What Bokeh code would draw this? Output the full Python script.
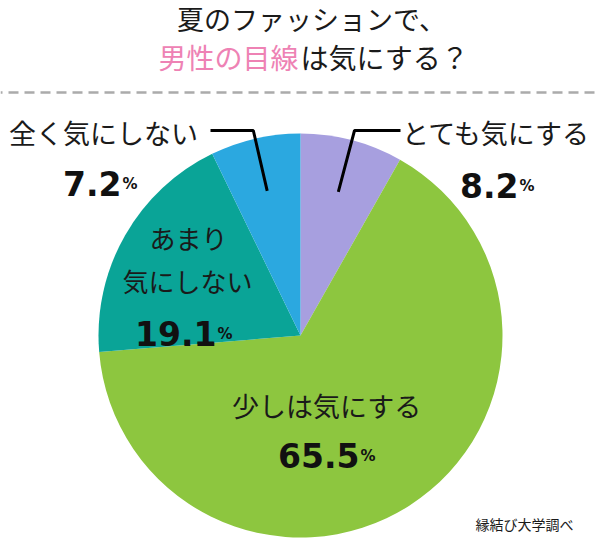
import math
from bokeh.plotting import figure
from bokeh.models import Range1d
from bokeh.core.properties import value
from bokeh.embed import file_html
from bokeh.resources import INLINE

# ---- data ----
labels = ["とても気にする", "少しは気にする", "あまり気にしない", "全く気にしない"]
values = [8.2, 65.5, 19.1, 7.2]
colors = ["#A79FDF", "#8DC63F", "#0AA497", "#2BA8E0"]
title1 = "夏のファッションで、"
title2a = "男性の目線"
title2b = "は気にする？"
source_note = "縁結び大学調べ"

# ---- layout ----
W, H = 600, 541
CX, CY, R = 300, 335, 202
JP = value("Noto Sans CJK JP")
NUM = value("DejaVu Sans")


def Y(y):
    return H - y


p = figure(width=W, height=H, x_range=Range1d(0, W), y_range=Range1d(0, H),
           output_backend="svg", toolbar_location=None,
           x_axis_location=None, y_axis_location=None, min_border=0)
p.grid.visible = False
p.outline_line_color = None
p.background_fill_color = "white"
p.border_fill_color = "white"

# ---- pie ----
total = sum(values)
cum = 0.0
starts, ends, mids = [], [], []
for v in values:
    a0 = math.pi / 2 - 2 * math.pi * cum / total
    cum += v
    a1 = math.pi / 2 - 2 * math.pi * cum / total
    starts.append(a0)
    ends.append(a1)
    mids.append((a0 + a1) / 2)

p.wedge(x=CX, y=Y(CY), radius=R, start_angle=starts, end_angle=ends,
        direction="clock", fill_color=colors, line_color=None)

# ---- title ----
p.text(x=[311], y=[Y(18)], text=[title1], text_font=JP, text_font_size="27px",
       text_align="center", text_baseline="middle", text_color="#1a1a1a")
p.text(x=[298], y=[Y(56)], text=[title2a], text_font=JP, text_font_size="28px",
       text_align="right", text_baseline="middle", text_color="#EE82B4")
p.text(x=[300], y=[Y(56)], text=[title2b], text_font=JP, text_font_size="28px",
       text_align="left", text_baseline="middle", text_color="#1a1a1a")

# dashed separator
p.line(x=[0, W], y=[Y(92), Y(92)], line_color="#ABABAB", line_width=2.5,
       line_dash="10 6", line_dash_offset=8)

# ---- leader lines (small slices) ----
def leader(i, x_end_h):
    ex = CX + 0.735 * R * math.cos(mids[i])
    ey = CY - 0.735 * R * math.sin(mids[i])
    ty = 130
    tx = ex + (ey - ty) * (math.cos(mids[i]) / math.sin(mids[i]))
    return [x_end_h, tx, ex], [Y(ty), Y(ty), Y(ey)]

lx, ly = leader(0, 400)
p.line(x=lx, y=ly, line_color="black", line_width=3)
lx, ly = leader(3, 210)
p.line(x=lx, y=ly, line_color="black", line_width=3)

# ---- category labels ----
cat_txt = [labels[0], labels[1], "あまり", "気にしない", labels[3]]
cat_x = [496, 326, 188, 187, 103]
cat_y = [132, 405, 237, 280, 132]
cat_sz = ["27px", "27px", "26px", "26px", "27px"]
for t, x, y, s in zip(cat_txt, cat_x, cat_y, cat_sz):
    p.text(x=[x], y=[Y(y)], text=[t], text_font=JP, text_font_size=s,
           text_align="center", text_baseline="middle", text_color="#1a1a1a")

# ---- percentage labels ----
num_x = [518, 359, 216, 121]
num_base = [185, 455, 333, 183]
for v, x, b in zip(values, num_x, num_base):
    p.text(x=[x], y=[Y(b)], text=[f"{v}"], text_font=NUM, text_font_size="33px",
           text_font_style="bold", text_align="right", text_baseline="alphabetic",
           text_color="#111111")
    p.text(x=[x + 1], y=[Y(b)], text=["%"], text_font=NUM, text_font_size="15px",
           text_font_style="bold", text_align="left", text_baseline="alphabetic",
           text_color="#111111")

# ---- source ----
p.text(x=[524], y=[Y(523)], text=[source_note], text_font=JP, text_font_size="14px",
       text_align="center", text_baseline="middle", text_color="#1a1a1a")

open("out.html", "w").write(file_html(p, INLINE))
